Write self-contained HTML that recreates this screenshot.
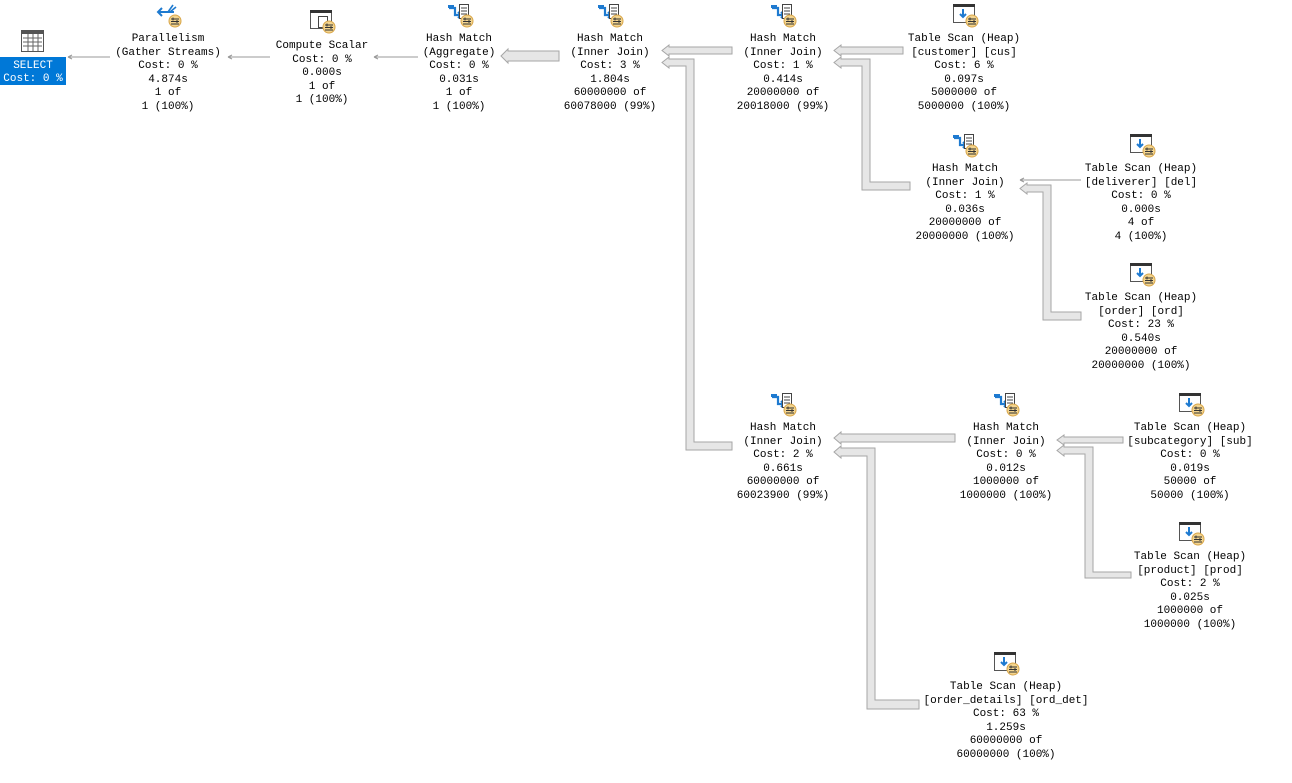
<!DOCTYPE html>
<html><head><meta charset="utf-8"><style>
html,body{margin:0;padding:0;background:#fff;width:1292px;height:783px;overflow:hidden}
svg text{font-family:"Liberation Mono","Courier New",monospace;font-size:11px;fill:#000}
</style></head><body>
<svg width="1292" height="783" viewBox="0 0 1292 783" xmlns="http://www.w3.org/2000/svg">
<defs>
<g id="badge"><circle cx="19" cy="17" r="6" fill="#f3d48e" stroke="#d8a64a"/><path d="M15 15h8M15 17.5h8M15 20h8" stroke="#333" stroke-width="1"/><path d="M17 13.5v3M21 16v3" stroke="#333"/></g>
<g id="scan"><rect x="0.5" y="0.5" width="21" height="18" fill="#fff" stroke="#555"/><rect x="0" y="0" width="22" height="3" fill="#333"/><path d="M10 5v8M7 10l3 3 3-3" stroke="#1e7ad0" stroke-width="2" fill="none"/><use href="#badge"/></g>
<g id="hash"><path d="M1 4h6v7h5" stroke="#1e7ad0" stroke-width="2.2" fill="none"/><path d="M10 8l3 3-3 3" stroke="#1e7ad0" stroke-width="2" fill="none"/><rect x="0" y="1" width="6" height="3" fill="#1e7ad0"/><rect x="11.5" y="0.5" width="9" height="14" fill="#fff" stroke="#444"/><path d="M13 4h6M13 7h6M13 10h6" stroke="#444"/><use href="#badge"/></g>
<g id="par"><path d="M2 8h16" stroke="#1e7ad0" stroke-width="2"/><path d="M6 4l-4 4 4 4" stroke="#1e7ad0" stroke-width="2" fill="none"/><path d="M12 8l5-7M14 8l6-5" stroke="#1e7ad0" stroke-width="1.6"/><use href="#badge"/></g>
<g id="comp"><rect x="0.5" y="0.5" width="21" height="18" fill="#fff" stroke="#555"/><rect x="0" y="0" width="22" height="3" fill="#333"/><rect x="8.5" y="6.5" width="9" height="11" fill="#fff" stroke="#444"/><use href="#badge"/></g>
</defs>

<!-- SELECT -->
<g transform="translate(21,30)"><rect x="0.5" y="0.5" width="22" height="21" fill="#fff" stroke="#555"/><rect x="0" y="0" width="23" height="4" fill="#555"/><path d="M2 8h19M2 12h19M2 16h19M7 4v17M12 4v17M17 4v17" stroke="#666"/></g>
<rect x="0" y="57" width="66" height="28" fill="#0078d7"/>
<text x="33" y="68" text-anchor="middle" style="fill:#fff">SELECT</text>
<text x="33" y="81" text-anchor="middle" style="fill:#fff">Cost: 0 %</text>

<!-- thin arrows -->
<g stroke="#999" fill="none" stroke-width="1">
<path d="M68 57H110M68 57l4-2M68 57l4 2"/>
<path d="M228 57H270M228 57l4-2M228 57l4 2"/>
<path d="M374 57H418M374 57l4-2M374 57l4 2"/>
<path d="M1020 180H1081M1020 180l4-2M1020 180l4 2"/>
</g>

<!-- thick arrows -->
<g fill="#e6e6e6" stroke="#a6a6a6" stroke-width="1">
<polygon points="501,56 508,49 508,51 559,51 559,61 508,61 508,63"/>
<polygon points="662,50.5 669,45 669,47 732,47 732,54 669,54 669,56"/>
<polygon points="662,62.5 669,57 669,59 694,59 694,442 732,442 732,450 686,450 686,66 669,66 669,68"/>
<polygon points="834,50.5 841,45 841,47 903,47 903,54 841,54 841,56"/>
<polygon points="834,62.5 841,57 841,59 870,59 870,182 910,182 910,190 862,190 862,66 841,66 841,68"/>
<polygon points="1020,188.5 1027,183 1027,185 1051,185 1051,312 1081,312 1081,320 1043,320 1043,192 1027,192 1027,194"/>
<polygon points="834,438 841,432 841,434 955,434 955,442 841,442 841,444"/>
<polygon points="834,452 841,446 841,448 875,448 875,700 919,700 919,709 867,709 867,456 841,456 841,458"/>
<polygon points="1057,440 1064,435 1064,437 1123,437 1123,443 1064,443 1064,445"/>
<polygon points="1057,450.5 1064,445 1064,447 1093,447 1093,572 1131,572 1131,578 1085,578 1085,454 1064,454 1064,456"/>
</g>

<!-- icons -->
<use href="#par" transform="translate(156,4)"/>
<use href="#comp" transform="translate(310,10)"/>
<use href="#hash" transform="translate(448,4)"/>
<use href="#hash" transform="translate(598,4)"/>
<use href="#hash" transform="translate(771,4)"/>
<use href="#scan" transform="translate(953,4)"/>
<use href="#hash" transform="translate(953,134)"/>
<use href="#scan" transform="translate(1130,134)"/>
<use href="#scan" transform="translate(1130,263)"/>
<use href="#hash" transform="translate(771,393)"/>
<use href="#hash" transform="translate(994,393)"/>
<use href="#scan" transform="translate(1179,393)"/>
<use href="#scan" transform="translate(1179,522)"/>
<use href="#scan" transform="translate(994,652)"/>

<!-- labels -->
<g text-anchor="middle">
<text x="168" y="41">Parallelism</text><text x="168" y="55">(Gather Streams)</text><text x="168" y="68">Cost: 0 %</text><text x="168" y="82">4.874s</text><text x="168" y="95">1 of</text><text x="168" y="109">1 (100%)</text>

<text x="322" y="48">Compute Scalar</text><text x="322" y="62">Cost: 0 %</text><text x="322" y="75">0.000s</text><text x="322" y="89">1 of</text><text x="322" y="102">1 (100%)</text>

<text x="459" y="41">Hash Match</text><text x="459" y="55">(Aggregate)</text><text x="459" y="68">Cost: 0 %</text><text x="459" y="82">0.031s</text><text x="459" y="95">1 of</text><text x="459" y="109">1 (100%)</text>

<text x="610" y="41">Hash Match</text><text x="610" y="55">(Inner Join)</text><text x="610" y="68">Cost: 3 %</text><text x="610" y="82">1.804s</text><text x="610" y="95">60000000 of</text><text x="610" y="109">60078000 (99%)</text>

<text x="783" y="41">Hash Match</text><text x="783" y="55">(Inner Join)</text><text x="783" y="68">Cost: 1 %</text><text x="783" y="82">0.414s</text><text x="783" y="95">20000000 of</text><text x="783" y="109">20018000 (99%)</text>

<text x="964" y="41">Table Scan (Heap)</text><text x="964" y="55">[customer] [cus]</text><text x="964" y="68">Cost: 6 %</text><text x="964" y="82">0.097s</text><text x="964" y="95">5000000 of</text><text x="964" y="109">5000000 (100%)</text>

<text x="965" y="171">Hash Match</text><text x="965" y="185">(Inner Join)</text><text x="965" y="198">Cost: 1 %</text><text x="965" y="212">0.036s</text><text x="965" y="225">20000000 of</text><text x="965" y="239">20000000 (100%)</text>

<text x="1141" y="171">Table Scan (Heap)</text><text x="1141" y="185">[deliverer] [del]</text><text x="1141" y="198">Cost: 0 %</text><text x="1141" y="212">0.000s</text><text x="1141" y="225">4 of</text><text x="1141" y="239">4 (100%)</text>

<text x="1141" y="300">Table Scan (Heap)</text><text x="1141" y="314">[order] [ord]</text><text x="1141" y="327">Cost: 23 %</text><text x="1141" y="341">0.540s</text><text x="1141" y="354">20000000 of</text><text x="1141" y="368">20000000 (100%)</text>

<text x="783" y="430">Hash Match</text><text x="783" y="444">(Inner Join)</text><text x="783" y="457">Cost: 2 %</text><text x="783" y="471">0.661s</text><text x="783" y="484">60000000 of</text><text x="783" y="498">60023900 (99%)</text>

<text x="1006" y="430">Hash Match</text><text x="1006" y="444">(Inner Join)</text><text x="1006" y="457">Cost: 0 %</text><text x="1006" y="471">0.012s</text><text x="1006" y="484">1000000 of</text><text x="1006" y="498">1000000 (100%)</text>

<text x="1190" y="430">Table Scan (Heap)</text><text x="1190" y="444">[subcategory] [sub]</text><text x="1190" y="457">Cost: 0 %</text><text x="1190" y="471">0.019s</text><text x="1190" y="484">50000 of</text><text x="1190" y="498">50000 (100%)</text>

<text x="1190" y="559">Table Scan (Heap)</text><text x="1190" y="573">[product] [prod]</text><text x="1190" y="586">Cost: 2 %</text><text x="1190" y="600">0.025s</text><text x="1190" y="613">1000000 of</text><text x="1190" y="627">1000000 (100%)</text>

<text x="1006" y="689">Table Scan (Heap)</text><text x="1006" y="703">[order_details] [ord_det]</text><text x="1006" y="716">Cost: 63 %</text><text x="1006" y="730">1.259s</text><text x="1006" y="743">60000000 of</text><text x="1006" y="757">60000000 (100%)</text>
</g>
</svg>
</body></html>
